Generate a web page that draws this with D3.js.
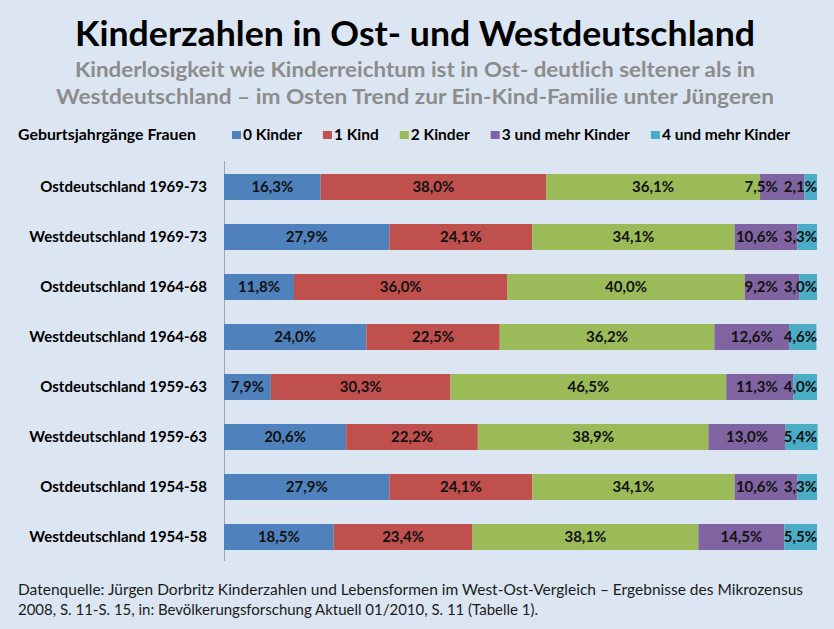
<!DOCTYPE html>
<html>
<head>
<meta charset="utf-8">
<script src="https://cdn.jsdelivr.net/npm/d3@7"></script>
<style>
    html, body { margin: 0; padding: 0; background: #dce6f2; }
    svg { display: block; font-family: Lato, "Open Sans", sans-serif; }
</style>
</head>
<body>
<svg id="chart" width="834" height="629"></svg>
<script>
// Data
const categories = [
    'Ostdeutschland 1969-73', 'Westdeutschland 1969-73',
    'Ostdeutschland 1964-68', 'Westdeutschland 1964-68',
    'Ostdeutschland 1959-63', 'Westdeutschland 1959-63',
    'Ostdeutschland 1954-58', 'Westdeutschland 1954-58'
];
const seriesNames = ['0 Kinder', '1 Kind', '2 Kinder', '3 und mehr Kinder', '4 und mehr Kinder'];
const kinder0 = [16.3, 27.9, 11.8, 24.0, 7.9, 20.6, 27.9, 18.5];
const kinder1 = [38.0, 24.1, 36.0, 22.5, 30.3, 22.2, 24.1, 23.4];
const kinder2 = [36.1, 34.1, 40.0, 36.2, 46.5, 38.9, 34.1, 38.1];
const kinder3 = [7.5, 10.6, 9.2, 12.6, 11.3, 13.0, 10.6, 14.5];
const kinder4 = [2.1, 3.3, 3.0, 4.6, 4.0, 5.4, 3.3, 5.5];
const colors = ['#4f81bd', '#c0504d', '#9bbb59', '#8064a2', '#4bacc6'];

const title = 'Kinderzahlen in Ost- und Westdeutschland';
const subtitle = [
    'Kinderlosigkeit wie Kinderreichtum ist in Ost- deutlich seltener als in',
    'Westdeutschland – im Osten Trend zur Ein-Kind-Familie unter Jüngeren'
];
const legendTitle = 'Geburtsjahrgänge Frauen';
const source = [
    'Datenquelle: Jürgen Dorbritz Kinderzahlen und Lebensformen im West-Ost-Vergleich – Ergebnisse des Mikrozensus',
    '2008, S. 11-S. 15, in: Bevölkerungsforschung Aktuell 01/2010, S. 11 (Tabelle 1).'
];

const values = [kinder0, kinder1, kinder2, kinder3, kinder4];
const rows = categories.map((c, i) => {
    let r = { category: c };
    seriesNames.forEach((s, k) => r[s] = values[k][i]);
    return r;
});

const d3svg = d3.select('#chart');
const fmt = (v) => d3.format('.1f')(v).replace('.', ',') + '%';

// Scales
const xScale = d3.scaleLinear().domain([0, 100]).range([224, 817]);
const yScale = d3.scaleBand().domain(categories).range([162, 562]).paddingInner(0.48).paddingOuter(0.24);

// Title
d3svg.append('text')
    .attr('x', 415).attr('y', 46)
    .attr('text-anchor', 'middle')
    .attr('font-size', 34).attr('font-weight', 'bold').attr('fill', '#000')
    .attr('textLength', 680).attr('lengthAdjust', 'spacingAndGlyphs')
    .text(title);

d3svg.selectAll('.subtitle').data(subtitle).enter().append('text')
    .attr('class', 'subtitle')
    .attr('x', 415).attr('y', (d, i) => 77 + i * 27)
    .attr('text-anchor', 'middle')
    .attr('font-size', 20).attr('font-weight', 'bold').attr('fill', '#8c8c8c')
    .attr('textLength', (d, i) => i === 0 ? 680 : 718).attr('lengthAdjust', 'spacingAndGlyphs')
    .text((d) => d);

// Legend
d3svg.append('text')
    .attr('x', 18).attr('y', 140)
    .attr('font-size', 15).attr('font-weight', 'bold').attr('fill', '#000')
    .attr('textLength', 178).attr('lengthAdjust', 'spacingAndGlyphs')
    .text(legendTitle);

let lx = 232;
seriesNames.forEach((s, k) => {
    let g = d3svg.append('g').attr('transform', 'translate(' + lx + ',0)');
    g.append('rect').attr('x', 0).attr('y', 131).attr('width', 9).attr('height', 8).attr('fill', colors[k]);
    let t = g.append('text').attr('x', 11).attr('y', 140)
        .attr('font-size', 15.5).attr('font-weight', 'bold').attr('fill', '#000')
        .text(s);
    lx += 11 + t.node().getComputedTextLength() + 21;
});

// Axis line
d3svg.append('line')
    .attr('x1', xScale(0) + 0.5).attr('x2', xScale(0) + 0.5)
    .attr('y1', 161).attr('y2', 561)
    .attr('stroke', '#a6a6a6').attr('stroke-width', 1);

// Category labels
d3svg.selectAll('.cat').data(categories).enter().append('text')
    .attr('class', 'cat')
    .attr('x', 207)
    .attr('y', (c) => yScale(c) + yScale.bandwidth() / 2)
    .attr('dy', '0.35em')
    .attr('text-anchor', 'end')
    .attr('font-size', 15).attr('font-weight', 'bold').attr('fill', '#000')
    .text((c) => c);

// Bars
const stack = d3.stack().keys(seriesNames)(rows);
const layers = d3svg.selectAll('.layer').data(stack).enter().append('g')
    .attr('class', 'layer')
    .attr('fill', (d, k) => colors[k]);

layers.selectAll('rect').data((d) => d).enter().append('rect')
    .attr('x', (d) => xScale(d[0]))
    .attr('y', (d) => yScale(d.data.category))
    .attr('width', (d) => xScale(d[1]) - xScale(d[0]))
    .attr('height', yScale.bandwidth());

// Labels, centered in segment, pushed left where they would collide
rows.forEach((r) => {
    let cy = yScale(r.category) + yScale.bandwidth() / 2;
    let labels = stack.map((layer) => {
        let d = layer.find((p) => p.data.category === r.category);
        let t = d3svg.append('text')
            .attr('y', cy).attr('dy', '0.36em')
            .attr('text-anchor', 'middle')
            .attr('font-size', 15).attr('font-weight', 'bold').attr('fill', '#111')
            .text(fmt(d[1] - d[0]));
        return { t, cx: (xScale(d[0]) + xScale(d[1])) / 2, w: t.node().getComputedTextLength() };
    });
    let limit = xScale(100);
    for (let k = labels.length - 1; k >= 0; k--) {
        let l = labels[k];
        if (l.cx + l.w / 2 > limit) l.cx = limit - l.w / 2;
        limit = l.cx - l.w / 2 - 6;
        l.t.attr('x', l.cx);
    }
});

// Source
d3svg.selectAll('.source').data(source).enter().append('text')
    .attr('class', 'source')
    .attr('x', 18).attr('y', (d, i) => 595 + i * 20)
    .attr('font-size', 15).attr('fill', '#1a1a1a')
    .attr('textLength', (d, i) => i === 0 ? 785 : 520).attr('lengthAdjust', 'spacingAndGlyphs')
    .text((d) => d);
</script>
</body>
</html>
